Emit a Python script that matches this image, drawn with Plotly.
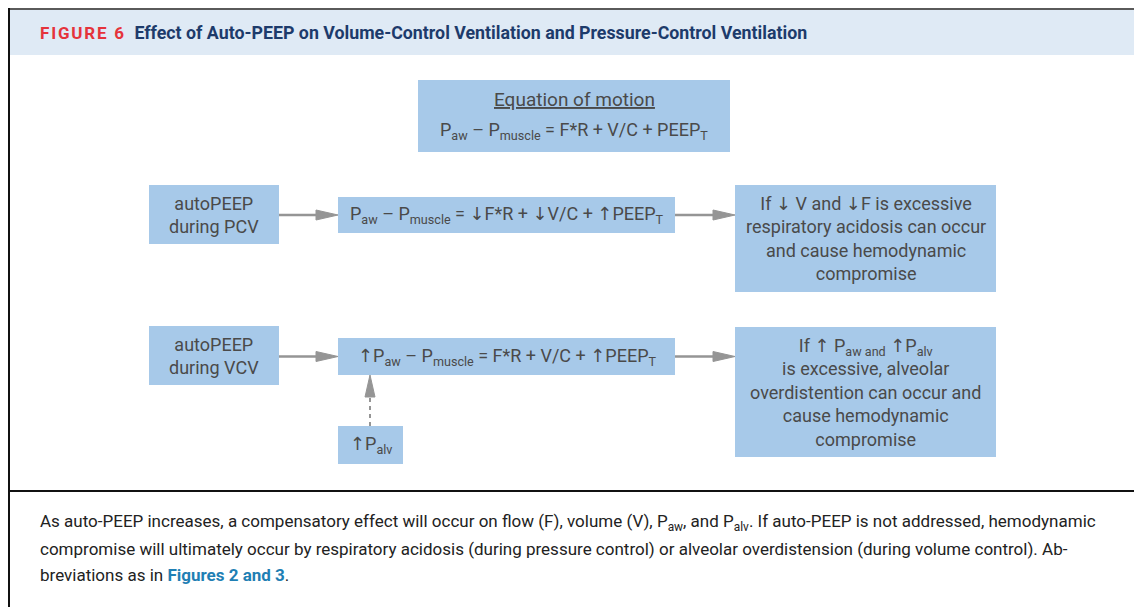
import plotly.graph_objects as go

UP = "<span style='font-family:DejaVu Sans'>↑</span>"
DN = "<span style='font-family:DejaVu Sans'>↓</span>"

# ---- text content (data) ----
figure_label = "FIGURE 6"
figure_title = "Effect of Auto-PEEP on Volume-Control Ventilation and Pressure-Control Ventilation"
eq_heading = "Equation of motion"
eq_base = "P<sub>aw</sub> – P<sub>muscle</sub> = F*R + V/C + PEEP<sub>T</sub>"
row_labels = ["autoPEEP<br>during PCV", "autoPEEP<br>during VCV"]
row_equations = [
    f"P<sub>aw</sub> – P<sub>muscle</sub> = {DN}F*R + {DN}V/C + {UP}PEEP<sub>T</sub>",
    f"{UP}P<sub>aw</sub> – P<sub>muscle</sub> = F*R + V/C + {UP}PEEP<sub>T</sub>",
]
row_outcomes = [
    f"If {DN} V and {DN}F is excessive<br>respiratory acidosis can occur<br>and cause hemodynamic<br>compromise",
    f"If {UP} P<sub>aw and</sub> {UP}P<sub>alv</sub><br>is excessive, alveolar<br>overdistention can occur and<br>cause hemodynamic<br>compromise",
]
palv_label = f"{UP}P<sub>alv</sub>"
caption_lines = [
    "As auto-PEEP increases, a compensatory effect will occur on flow (F), volume (V), P<sub>aw</sub>, and P<sub>alv</sub>. If auto-PEEP is not addressed, hemodynamic",
    "compromise will ultimately occur by respiratory acidosis (during pressure control) or alveolar overdistension (during volume control). Ab-",
    "breviations as in <b><span style='color:#1f7fb4'>Figures 2 and 3</span></b>.",
]

# ---- layout geometry (page pixels) ----
W, H = 1142, 607
OFF = 8  # page body margin
BOX_FILL = "#a7c9e9"
TXT = "#4a4a4a"
ARROW = "#959595"
FONT = "Roboto, 'Noto Sans', sans-serif"

boxes = {
    "eq": (418, 80, 730, 152),
    "lab0": (149, 185, 279, 244),
    "eqn0": (338, 197, 675, 233),
    "out0": (735, 185, 996, 292),
    "lab1": (149, 326, 279, 385),
    "eqn1": (338, 338, 675, 375),
    "out1": (735, 327, 996, 457),
    "palv": (338, 426, 403, 464),
}

shapes = []
annotations = []

# header band
shapes.append(dict(type="rect", x0=9, y0=9, x1=1135, y1=55, fillcolor="#dfeaf5", line=dict(width=0), layer="below"))
# outer frame
shapes.append(dict(type="line", x0=8, y0=9, x1=1136, y1=9, line=dict(color="#5a5a5a", width=2)))
shapes.append(dict(type="line", x0=9, y0=8, x1=9, y1=H + 20, line=dict(color="#111111", width=2)))
shapes.append(dict(type="line", x0=1136, y0=8, x1=1136, y1=H + 20, line=dict(color="#111111", width=2)))
shapes.append(dict(type="line", x0=8, y0=491, x1=1136, y1=491, line=dict(color="#111111", width=2)))

for k, (x0, y0, x1, y1) in boxes.items():
    shapes.append(dict(type="rect", x0=x0, y0=y0, x1=x1, y1=y1, fillcolor=BOX_FILL, line=dict(width=0), layer="below"))


def hArrow(xa, xb, y):
    head = 22
    shapes.append(dict(type="line", x0=xa, y0=y, x1=xb - head + 2, y1=y, line=dict(color=ARROW, width=2.5)))
    shapes.append(dict(type="path", path=f"M{xb - head},{y - 5} L{xb},{y} L{xb - head},{y + 5} Z",
                       fillcolor=ARROW, line=dict(color=ARROW, width=1)))


def box_center(k):
    x0, y0, x1, y1 = boxes[k]
    return (x0 + x1) / 2, (y0 + y1) / 2


for i in range(2):
    lab, eqn, out = boxes[f"lab{i}"], boxes[f"eqn{i}"], boxes[f"out{i}"]
    y = (eqn[1] + eqn[3]) / 2
    hArrow(lab[2], eqn[0], y)
    hArrow(eqn[2], out[0], y)

# dashed up arrow from Palv box to VCV equation box
px = 370
shapes.append(dict(type="line", x0=px, y0=boxes["palv"][1], x1=px, y1=boxes["eqn1"][3] + 20,
                   line=dict(color=ARROW, width=2, dash="4px,4px")))
ytop = boxes["eqn1"][3]
shapes.append(dict(type="path", path=f"M{px - 5},{ytop + 22} L{px},{ytop} L{px + 5},{ytop + 22} Z",
                   fillcolor=ARROW, line=dict(color=ARROW, width=1)))


def add_text(x, y, text, size=18, color=TXT, xanchor="center", family=FONT):
    annotations.append(dict(x=x, y=y, xref="x", yref="y", text=text, showarrow=False,
                            xanchor=xanchor, yanchor="middle", align="center",
                            font=dict(family=family, size=size, color=color)))


# title
add_text(38, 32, f"<span style='color:#e5333b;letter-spacing:1.8px'><b>{figure_label}</b></span>"
                 f"  <span style='color:#1d3b6b;font-size:17.8px'><b>{figure_title}</b></span>",
         size=17, xanchor="left")

cx, cy = box_center("eq")
add_text(cx, 99, f"<span style='text-decoration:underline'>{eq_heading}</span>", size=19)
add_text(cx, 131, eq_base)

for i in range(2):
    x, y = box_center(f"lab{i}")
    add_text(x, y, row_labels[i])
    x, y = box_center(f"eqn{i}")
    add_text(x, y, row_equations[i])
    x, y = box_center(f"out{i}")
    add_text(x, y, row_outcomes[i])

x, y = box_center("palv")
add_text(x, y, palv_label)

for j, line in enumerate(caption_lines):
    add_text(38, 522 + j * 26.5, line, size=17, color="#222222", xanchor="left")

fig = go.Figure()
fig.update_layout(
    width=W, height=H, margin=dict(l=0, r=0, t=0, b=0),
    paper_bgcolor="white", plot_bgcolor="white",
    xaxis=dict(range=[OFF, W + OFF], visible=False, fixedrange=True),
    yaxis=dict(range=[H + OFF, OFF], visible=False, fixedrange=True),
    shapes=shapes, annotations=annotations, showlegend=False,
)
fig.write_html("out.html")
